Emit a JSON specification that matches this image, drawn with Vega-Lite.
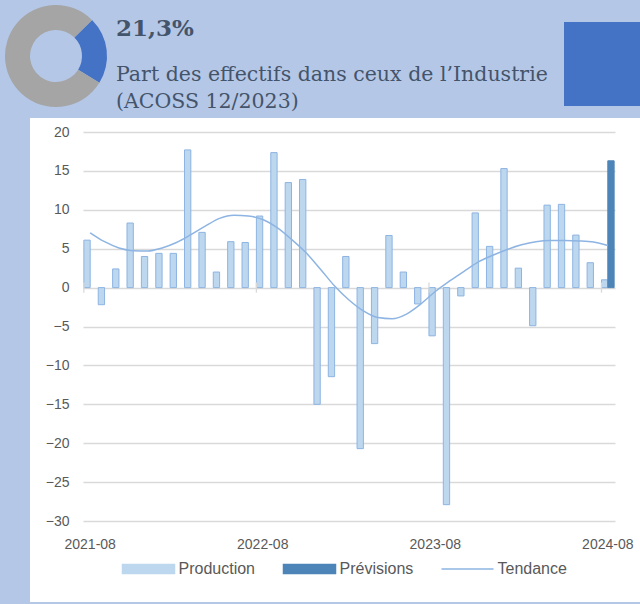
{
  "$schema": "https://vega.github.io/schema/vega-lite/v6.json",
  "background": "#b4c7e7",
  "padding": {"left": 5, "top": 5, "right": 0, "bottom": 2},
  "config": {
    "font": "Liberation Sans",
    "view": {"stroke": null},
    "concat": {"spacing": 0}
  },
  "datasets": {
    "obs": [
      {"m": "2021-08", "series": "Production", "v": 6.1},
      {"m": "2021-09", "series": "Production", "v": -2.2},
      {"m": "2021-10", "series": "Production", "v": 2.4},
      {"m": "2021-11", "series": "Production", "v": 8.3},
      {"m": "2021-12", "series": "Production", "v": 4.0},
      {"m": "2022-01", "series": "Production", "v": 4.4},
      {"m": "2022-02", "series": "Production", "v": 4.4},
      {"m": "2022-03", "series": "Production", "v": 17.7},
      {"m": "2022-04", "series": "Production", "v": 7.1},
      {"m": "2022-05", "series": "Production", "v": 2.0},
      {"m": "2022-06", "series": "Production", "v": 5.9},
      {"m": "2022-07", "series": "Production", "v": 5.8},
      {"m": "2022-08", "series": "Production", "v": 9.2},
      {"m": "2022-09", "series": "Production", "v": 17.35},
      {"m": "2022-10", "series": "Production", "v": 13.5},
      {"m": "2022-11", "series": "Production", "v": 13.9},
      {"m": "2022-12", "series": "Production", "v": -15.0},
      {"m": "2023-01", "series": "Production", "v": -11.45},
      {"m": "2023-02", "series": "Production", "v": 4.0},
      {"m": "2023-03", "series": "Production", "v": -20.7},
      {"m": "2023-04", "series": "Production", "v": -7.2},
      {"m": "2023-05", "series": "Production", "v": 6.7},
      {"m": "2023-06", "series": "Production", "v": 2.0},
      {"m": "2023-07", "series": "Production", "v": -2.1},
      {"m": "2023-08", "series": "Production", "v": -6.2},
      {"m": "2023-09", "series": "Production", "v": -27.9},
      {"m": "2023-10", "series": "Production", "v": -1.07},
      {"m": "2023-11", "series": "Production", "v": 9.6},
      {"m": "2023-12", "series": "Production", "v": 5.3},
      {"m": "2024-01", "series": "Production", "v": 15.3},
      {"m": "2024-02", "series": "Production", "v": 2.5},
      {"m": "2024-03", "series": "Production", "v": -4.9},
      {"m": "2024-04", "series": "Production", "v": 10.6},
      {"m": "2024-05", "series": "Production", "v": 10.7},
      {"m": "2024-06", "series": "Production", "v": 6.75},
      {"m": "2024-07", "series": "Production", "v": 3.2},
      {"m": "2024-08", "series": "Production", "v": 1.0},
      {"m": "2024-08", "series": "Prévisions", "v": 16.3},
      {"m": "2021-08", "series": "Tendance", "v": 7.05},
      {"m": "2021-09", "series": "Tendance", "v": 5.9},
      {"m": "2021-10", "series": "Tendance", "v": 5.1},
      {"m": "2021-11", "series": "Tendance", "v": 4.75},
      {"m": "2021-12", "series": "Tendance", "v": 4.7},
      {"m": "2022-01", "series": "Tendance", "v": 5.1},
      {"m": "2022-02", "series": "Tendance", "v": 5.8},
      {"m": "2022-03", "series": "Tendance", "v": 6.8},
      {"m": "2022-04", "series": "Tendance", "v": 7.9},
      {"m": "2022-05", "series": "Tendance", "v": 8.9},
      {"m": "2022-06", "series": "Tendance", "v": 9.3},
      {"m": "2022-07", "series": "Tendance", "v": 9.2},
      {"m": "2022-08", "series": "Tendance", "v": 8.75},
      {"m": "2022-09", "series": "Tendance", "v": 7.7},
      {"m": "2022-10", "series": "Tendance", "v": 6.2},
      {"m": "2022-11", "series": "Tendance", "v": 4.5},
      {"m": "2022-12", "series": "Tendance", "v": 2.4},
      {"m": "2023-01", "series": "Tendance", "v": 0.2},
      {"m": "2023-02", "series": "Tendance", "v": -1.6},
      {"m": "2023-03", "series": "Tendance", "v": -3.0},
      {"m": "2023-04", "series": "Tendance", "v": -3.85},
      {"m": "2023-05", "series": "Tendance", "v": -4.0},
      {"m": "2023-06", "series": "Tendance", "v": -3.4},
      {"m": "2023-07", "series": "Tendance", "v": -2.1},
      {"m": "2023-08", "series": "Tendance", "v": -0.5},
      {"m": "2023-09", "series": "Tendance", "v": 0.85},
      {"m": "2023-10", "series": "Tendance", "v": 2.1},
      {"m": "2023-11", "series": "Tendance", "v": 3.3},
      {"m": "2023-12", "series": "Tendance", "v": 4.15},
      {"m": "2024-01", "series": "Tendance", "v": 4.9},
      {"m": "2024-02", "series": "Tendance", "v": 5.5},
      {"m": "2024-03", "series": "Tendance", "v": 5.9},
      {"m": "2024-04", "series": "Tendance", "v": 6.05},
      {"m": "2024-05", "series": "Tendance", "v": 6.05},
      {"m": "2024-06", "series": "Tendance", "v": 6.0},
      {"m": "2024-07", "series": "Tendance", "v": 5.85},
      {"m": "2024-08", "series": "Tendance", "v": 5.4}
    ],
    "donut": [
      {"part": "Industrie", "share": 21.3},
      {"part": "Reste", "share": 78.7}
    ]
  },
  "resolve": {"scale": {"color": "independent", "theta": "independent"}},
  "spacing": 5,
  "vconcat": [
    {
      "spacing": 9,
      "hconcat": [
        {
          "width": 102,
          "height": 102,
          "view": {"stroke": null},
          "data": {"name": "donut"},
          "mark": {"type": "arc", "innerRadius": 26, "outerRadius": 51},
          "encoding": {
            "theta": {"field": "share", "type": "quantitative", "stack": true, "scale": {"range": [0.7854, 7.0686]}},
            "color": {"field": "part", "type": "nominal", "scale": {"domain": ["Industrie", "Reste"], "range": ["#4472c4", "#a5a5a5"]}, "legend": null},
            "order": {"field": "share", "type": "quantitative", "sort": "ascending"}
          }
        },
        {
          "width": 439,
          "height": 10,
          "data": {"values": []},
          "mark": "point",
          "title": {
            "text": "21,3%",
            "subtitle": ["Part des effectifs dans ceux de l\u2019Industrie", "(ACOSS 12/2023)"],
            "orient": "bottom",
            "anchor": "start",
            "baseline": "top",
            "offset": 3,
            "font": "DejaVu Serif",
            "fontSize": 23,
            "fontWeight": "bold",
            "color": "#44546a",
            "subtitleFont": "DejaVu Serif",
            "subtitleFontSize": 20.5,
            "subtitleColor": "#44546a",
            "subtitleLineHeight": 26.6,
            "subtitlePadding": 24
          }
        },
        {
          "spacing": 0,
          "vconcat": [
            {"width": 76, "height": 17, "data": {"values": []}, "mark": "point"},
            {"width": 76, "height": 84, "view": {"fill": "#4472c4", "stroke": null}, "data": {"values": []}, "mark": "point"}
          ]
        }
      ]
    },
    {
      "spacing": 0,
      "hconcat": [
        {"width": 25, "height": 10, "data": {"values": []}, "mark": "point"},
        {
          "width": 610,
          "height": 484,
          "view": {"fill": "white", "stroke": null},
          "data": {"name": "obs"},
          "layer": [
            {
              "transform": [{"filter": "datum.series != 'Tendance'"}],
              "mark": {"type": "bar", "strokeWidth": 1},
              "encoding": {
                "x": {
                  "field": "m", "type": "ordinal",
                  "scale": {"type": "band", "range": [53, 585], "paddingInner": 0.12, "paddingOuter": 0.06},
                  "axis": {
                    "values": ["2021-08", "2022-08", "2023-08", "2024-08"],
                    "domain": false, "ticks": false, "grid": false, "labelAngle": 0,
                    "labelFontSize": 14, "labelColor": "#595959", "labelPadding": 0,
                    "offset": -65, "title": null, "labelOverlap": false
                  }
                },
                "xOffset": {"field": "series", "type": "nominal", "scale": {"domain": ["Production", "Prévisions"]}},
                "y": {
                  "field": "v", "type": "quantitative",
                  "scale": {"domain": [-30, 20], "range": [403, 14], "nice": false, "zero": false},
                  "axis": {
                    "orient": "left", "offset": -53,
                    "values": [-30, -25, -20, -15, -10, -5, 0, 5, 10, 15, 20],
                    "domain": false, "ticks": false, "labelPadding": 14,
                    "labelFontSize": 14, "labelColor": "#595959",
                    "grid": true, "gridColor": "#d9d9d9", "gridWidth": 1.3, "title": null
                  }
                },
                "color": {
                  "field": "series", "type": "nominal",
                  "scale": {"domain": ["Production", "Prévisions", "Tendance"], "range": ["#bdd7ee", "#4e85b8", "#8db4e2"]},
                  "legend": {
                    "orient": "none", "legendX": 116.5, "legendY": 424, "direction": "horizontal", "title": null,
                    "symbolSize": 2704, "symbolStrokeWidth": 1.5, "labelFontSize": 16, "labelColor": "#595959",
                    "labelOffset": 3, "columnPadding": 25, "labelFont": "Liberation Sans",
                    "encode": {
                      "symbols": {
                        "update": {
                          "shape": {"signal": "datum.value == 'Tendance' ? 'M-1,0H1' : 'M-1,-0.17H1V0.17H-1Z'"},
                          "fill": {"signal": "datum.value == 'Tendance' ? 'transparent' : (datum.value == 'Production' ? '#bdd7ee' : '#4e85b8')"},
                          "stroke": {"signal": "datum.value == 'Prévisions' ? '#4e85b8' : '#8db4e2'"},
                          "strokeWidth": {"value": 1.5},
                          "opacity": {"value": 1}
                        }
                      }
                    }
                  }
                },
                "stroke": {
                  "field": "series", "type": "nominal",
                  "scale": {"domain": ["Production", "Prévisions"], "range": ["#8db4e2", "#4e85b8"]},
                  "legend": null
                }
              }
            },
            {
              "transform": [{"filter": "datum.series == 'Tendance'"}],
              "mark": {"type": "line", "strokeWidth": 1.5, "interpolate": "monotone"},
              "encoding": {
                "x": {"field": "m", "type": "ordinal"},
                "y": {"field": "v", "type": "quantitative"},
                "color": {"field": "series", "type": "nominal"}
              }
            },
            {
              "transform": [{"filter": "datum.series == 'Tendance' && indexof(['2021-08','2022-08','2023-08','2024-08'], datum.m) >= 0"}],
              "mark": {"type": "rule", "color": "#d9d9d9", "strokeWidth": 1.3},
              "encoding": {
                "x": {"field": "m", "type": "ordinal", "bandPosition": 0},
                "y": {"datum": 0.65},
                "y2": {"datum": -0.65}
              }
            }
          ]
        }
      ]
    }
  ]
}
